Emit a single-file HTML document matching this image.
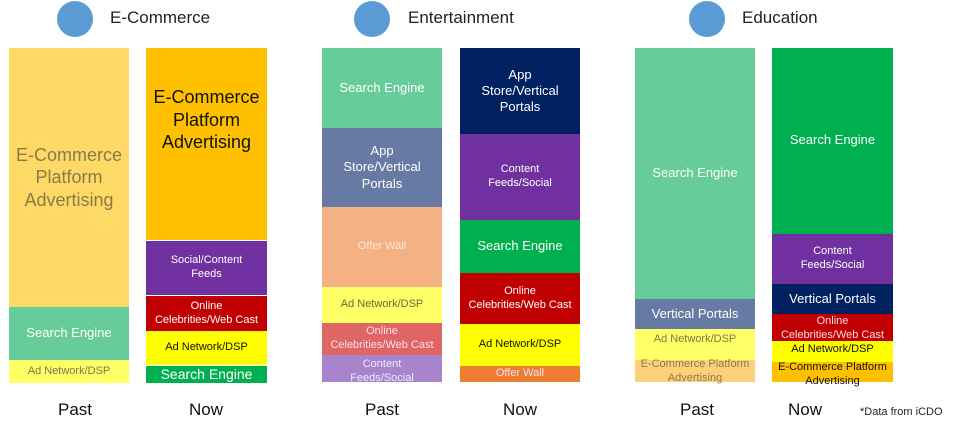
<!DOCTYPE html>
<html><head><meta charset="utf-8"><style>
body{margin:0;width:960px;height:433px;background:#fff;position:relative;overflow:hidden;font-family:"Liberation Sans",sans-serif}
.c{position:absolute;width:36px;height:36px;border-radius:50%;background:#5b9bd5;top:1px}
.t{position:absolute;top:8px;font-size:17px;color:#222}
.s{position:absolute;display:flex;align-items:center;justify-content:center;text-align:center;overflow:visible;line-height:1.25;white-space:nowrap}
.l{position:absolute;top:400px;font-size:17px;color:#111;width:120px;text-align:center}
</style></head><body>
<div class="c" style="left:57px"></div><div class="t" style="left:110px">E-Commerce</div>
<div class="c" style="left:354px"></div><div class="t" style="left:408px">Entertainment</div>
<div class="c" style="left:689px"></div><div class="t" style="left:742px">Education</div>

<!-- col1 -->
<div class="s" style="left:9px;width:120px;top:48px;height:259px;background:#ffd966;color:#8a7a4a;font-size:18px">E-Commerce<br>Platform<br>Advertising</div>
<div class="s" style="left:9px;width:120px;top:307px;height:53px;background:#66cc99;color:#fff;font-size:13px">Search Engine</div>
<div class="s" style="left:9px;width:120px;top:360px;height:23px;background:#ffff66;color:#7a7a4a;font-size:11px">Ad Network/DSP</div>

<!-- col2 -->
<div class="s" style="left:146px;width:121px;top:48px;height:192px;background:#ffc000;color:#111;font-size:18px;padding-bottom:48px;box-sizing:border-box">E-Commerce<br>Platform<br>Advertising</div>
<div class="s" style="left:146px;width:121px;top:240px;height:55px;background:#7030a0;color:#fff;font-size:11px;border-top:1px solid #fff;box-sizing:border-box">Social/Content<br>Feeds</div>
<div class="s" style="left:146px;width:121px;top:295px;height:36px;background:#c00000;color:#fff;font-size:11px;border-top:1px solid #fff;box-sizing:border-box">Online<br>Celebrities/Web Cast</div>
<div class="s" style="left:146px;width:121px;top:331px;height:34px;background:#ffff00;color:#111;font-size:11px">Ad Network/DSP</div>
<div class="s" style="left:146px;width:121px;top:365px;height:18px;background:#00b050;color:#fff;font-size:14px;border-top:1px solid #fff;box-sizing:border-box">Search Engine</div>

<!-- col3 -->
<div class="s" style="left:322px;width:120px;top:48px;height:80px;background:#66cc99;color:#fff;font-size:13px">Search Engine</div>
<div class="s" style="left:322px;width:120px;top:128px;height:79px;background:#667aa3;color:#fff;font-size:13px">App<br>Store/Vertical<br>Portals</div>
<div class="s" style="left:322px;width:120px;top:207px;height:80px;background:#f4b183;color:#fde8d8;font-size:11px">Offer Wall</div>
<div class="s" style="left:322px;width:120px;top:287px;height:36px;background:#ffff66;color:#6a6a40;font-size:11px">Ad Network/DSP</div>
<div class="s" style="left:322px;width:120px;top:323px;height:32px;background:#e06666;color:#fde;font-size:11px">Online<br>Celebrities/Web Cast</div>
<div class="s" style="left:322px;width:120px;top:355px;height:27px;background:#a884cc;color:#f0e8ff;font-size:11px;padding-top:6px;box-sizing:border-box">Content<br>Feeds/Social</div>

<!-- col4 -->
<div class="s" style="left:460px;width:120px;top:48px;height:86px;background:#002060;color:#fff;font-size:13px">App<br>Store/Vertical<br>Portals</div>
<div class="s" style="left:460px;width:120px;top:134px;height:86px;background:#7030a0;color:#fff;font-size:11px">Content<br>Feeds/Social</div>
<div class="s" style="left:460px;width:120px;top:220px;height:53px;background:#00b050;color:#fff;font-size:13px">Search Engine</div>
<div class="s" style="left:460px;width:120px;top:273px;height:51px;background:#c00000;color:#fff;font-size:11px">Online<br>Celebrities/Web Cast</div>
<div class="s" style="left:460px;width:120px;top:324px;height:42px;background:#ffff00;color:#111;font-size:11px">Ad Network/DSP</div>
<div class="s" style="left:460px;width:120px;top:366px;height:16px;background:#ed7d31;color:#fde;font-size:11px">Offer Wall</div>

<!-- col5 -->
<div class="s" style="left:635px;width:120px;top:48px;height:251px;background:#66cc99;color:#fff;font-size:13px">Search Engine</div>
<div class="s" style="left:635px;width:120px;top:299px;height:30px;background:#667aa3;color:#fff;font-size:13px">Vertical Portals</div>
<div class="s" style="left:635px;width:120px;top:329px;height:31px;background:#ffff66;color:#7a7a4a;font-size:11px;padding-bottom:10px;box-sizing:border-box">Ad Network/DSP</div>
<div class="s" style="left:635px;width:120px;top:360px;height:22px;background:#ffd07a;color:#8a7a4a;font-size:11px;padding-top:2px;box-sizing:border-box">E-Commerce Platform<br>Advertising</div>

<!-- col6 -->
<div class="s" style="left:772px;width:121px;top:48px;height:186px;background:#00b050;color:#fff;font-size:13px;padding-bottom:2px;box-sizing:border-box">Search Engine</div>
<div class="s" style="left:772px;width:121px;top:234px;height:50px;background:#7030a0;color:#fff;font-size:11px">Content<br>Feeds/Social</div>
<div class="s" style="left:772px;width:121px;top:284px;height:30px;background:#002060;color:#fff;font-size:13px">Vertical Portals</div>
<div class="s" style="left:772px;width:121px;top:314px;height:27px;background:#c00000;color:#fdd;font-size:11px;padding-top:2px;box-sizing:border-box">Online<br>Celebrities/Web Cast</div>
<div class="s" style="left:772px;width:121px;top:341px;height:21px;background:#ffff00;color:#111;font-size:11px;padding-bottom:4px;box-sizing:border-box">Ad Network/DSP</div>
<div class="s" style="left:772px;width:121px;top:362px;height:20px;background:#ffc000;color:#111;font-size:11px;padding-top:4px;box-sizing:border-box;line-height:1.3">E-Commerce Platform<br>Advertising</div>

<div class="l" style="left:15px">Past</div>
<div class="l" style="left:146px">Now</div>
<div class="l" style="left:322px">Past</div>
<div class="l" style="left:460px">Now</div>
<div class="l" style="left:637px">Past</div>
<div class="l" style="left:772px;width:66px">Now</div>
<div style="position:absolute;left:860px;top:406px;font-size:11px;color:#222">*Data from iCDO</div>
</body></html>
